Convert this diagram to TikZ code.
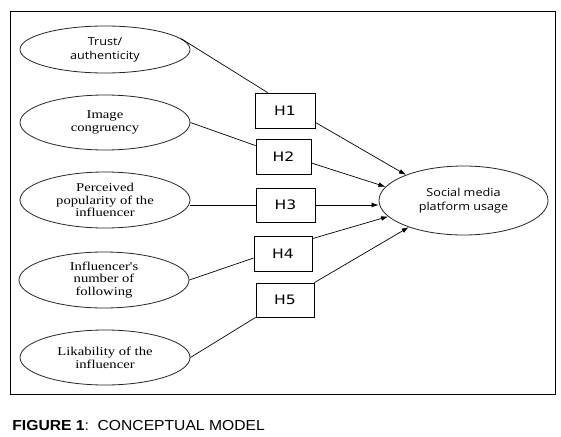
\documentclass[tikz,border=0pt]{standalone}
\usepackage{fontspec}
\usetikzlibrary{shapes.geometric,arrows.meta,calc}
\newfontfamily\fsans[FakeStretch=1.15]{Open Sans}
\newfontfamily\fser[FakeStretch=1.22]{Liberation Serif}
\newfontfamily\fhyp[FakeStretch=1.2]{DejaVu Sans}
\newfontfamily\fcap[FakeStretch=1.08]{Liberation Sans}
\begin{document}
\begin{tikzpicture}[x=1pt,y=-1pt,
  line width=0.8pt,
  construct/.style={ellipse,draw=black!85,minimum width=170pt,minimum height=55pt,inner sep=0pt,align=center,
     font=\fser\fontsize{12}{12.8}\selectfont},
  hypbox/.style={rectangle,draw,minimum height=35pt,inner sep=0pt,font=\fhyp\fontsize{13}{15}\selectfont},
  link/.style={draw,line width=0.7pt},
  arr/.style={link,-{Latex[length=7pt,width=4.8pt]}}]
\useasboundingbox (0,0) rectangle (561,436);
\fill[white] (0,0) rectangle (561,436);
\draw[line width=0.9pt] (10,11) rectangle (555,394);

\node[construct,minimum height=47pt,font=\fsans\fontsize{11}{14}\selectfont] (e1) at (105,49.5) {Trust/\\authenticity};
\node[construct] (e2) at (105,122.5) {Image\\congruency};
\node[construct,minimum height=56pt] (e3) at (105,200) {Perceived\\popularity of the\\influencer};
\node[construct,minimum height=56pt] (e4) at (104,280) {Influencer's\\number of\\following};
\node[construct] (e5) at (105,357.5) {Likability of the\\influencer};

\node[hypbox,minimum width=60pt] (h1) at (285,110.5) {H1};
\node[hypbox,minimum width=55pt] (h2) at (283.5,156.5) {H2};
\node[hypbox,minimum width=59pt,minimum height=34pt] (h3) at (285.5,205) {H3};
\node[hypbox,minimum width=58pt] (h4) at (283,253.5) {H4};
\node[hypbox,minimum width=58pt,minimum height=34pt] (h5) at (285,300) {H5};

\node[ellipse,draw=black!85,minimum width=169pt,minimum height=69pt,inner sep=0pt,align=center,
  font=\fsans\fontsize{11}{14}\selectfont] (t) at (463.5,200.5) {Social media\\platform usage};

\path[link] (e1.8) -- ([xshift=13pt]h1.north west);
\path[link] (e2.east) -- ([yshift=-7pt]h2.north west);
\path[link] (h3.west -| e3.east) -- (h3.west);
\path[link] (e4.east) -- ([yshift=-4.5pt]h4.west);
\path[link] (e5.east) -- (h5.south west);

\path[arr] ([yshift=6pt]h1.south east) -- (t.156);
\path[arr] ([yshift=-6.5pt]h2.east) -- (t.170);
\path[arr] (h3.east) -- (h3.east -| t.west);
\path[arr] ([yshift=-3pt]h4.north east) -- (t.192);
\path[arr] (h5.north east) -- (t.206);

\node[anchor=base west,inner sep=0pt,font=\fcap\fontsize{14.5}{16}\selectfont] (cap) at (12,430)
  {\textbf{FIGURE 1}:\ \ CONCEPTUAL MODEL};
\end{tikzpicture}
\end{document}
